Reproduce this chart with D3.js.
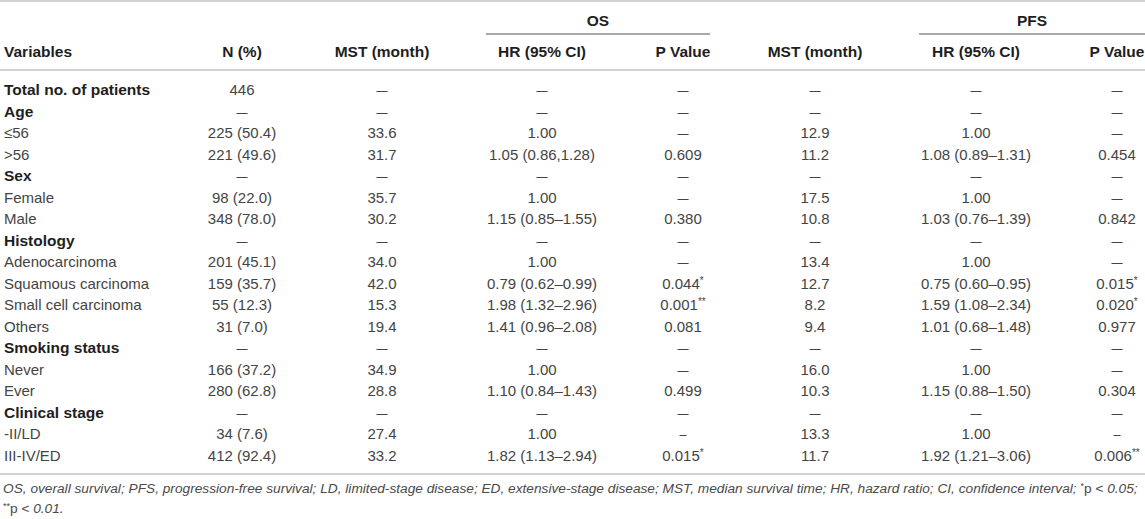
<!DOCTYPE html>
<html><head><meta charset="utf-8">
<script src="https://cdn.jsdelivr.net/npm/d3@7"></script>
<style>
html,body{margin:0;padding:0;background:#fff;}
svg{display:block;font-family:"Liberation Sans",Arial,Helvetica,sans-serif;}
</style></head>
<body><svg id="chart" width="1145" height="519"></svg>
<script>
const columns = ["Variables","N (%)","MST (month)","HR (95% CI)","P Value","MST (month)","HR (95% CI)","P Value"];
const groups = ["OS","PFS"];
const variables = ["Total no. of patients","Age","≤56",">56","Sex","Female","Male","Histology","Adenocarcinoma","Squamous carcinoma","Small cell carcinoma","Others","Smoking status","Never","Ever","Clinical stage","-II/LD","III-IV/ED"];
const boldRows = ["Total no. of patients","Age","Sex","Histology","Smoking status","Clinical stage"];
const nPct = ["446","—","225 (50.4)","221 (49.6)","—","98 (22.0)","348 (78.0)","—","201 (45.1)","159 (35.7)","55 (12.3)","31 (7.0)","—","166 (37.2)","280 (62.8)","—","34 (7.6)","412 (92.4)"];
const osMst = ["—","—","33.6","31.7","—","35.7","30.2","—","34.0","42.0","15.3","19.4","—","34.9","28.8","—","27.4","33.2"];
const osHr = ["—","—","1.00","1.05 (0.86,1.28)","—","1.00","1.15 (0.85–1.55)","—","1.00","0.79 (0.62–0.99)","1.98 (1.32–2.96)","1.41 (0.96–2.08)","—","1.00","1.10 (0.84–1.43)","—","1.00","1.82 (1.13–2.94)"];
const osP = ["—","—","—","0.609","—","—","0.380","—","—","0.044*","0.001**","0.081","—","—","0.499","—","–","0.015*"];
const pfsMst = ["—","—","12.9","11.2","—","17.5","10.8","—","13.4","12.7","8.2","9.4","—","16.0","10.3","—","13.3","11.7"];
const pfsHr = ["—","—","1.00","1.08 (0.89–1.31)","—","1.00","1.03 (0.76–1.39)","—","1.00","0.75 (0.60–0.95)","1.59 (1.08–2.34)","1.01 (0.68–1.48)","—","1.00","1.15 (0.88–1.50)","—","1.00","1.92 (1.21–3.06)"];
const pfsP = ["—","—","—","0.454","—","—","0.842","—","—","0.015*","0.020*","0.977","—","—","0.304","—","–","0.006**"];
const footnote1 = [["OS, overall survival; PFS, progression-free survival; LD, limited-stage disease; ED, extensive-stage disease; MST, median survival time; HR, hazard ratio; CI, confidence interval; ","i"],["*","sup"],["p","n"],[" < 0.05;","i"]];
const footnote2 = [["**","sup"],["p","n"],[" < 0.01.","i"]];

const svg = d3.select("#chart");
const W = 1145;
const dataCols = [nPct, osMst, osHr, osP, pfsMst, pfsHr, pfsP];
const colIdx = d3.range(1, 8);
const x = d3.scaleOrdinal().domain(colIdx).range([242, 382, 542, 683, 815, 976, 1117]);
const y = d3.scalePoint().domain(d3.range(variables.length)).range([89.5, 455.5]);
const body = "#444", head = "#1e1e1e", rule = "#d2d2d2";
const fs = 15;

// rules
svg.append("line").attr("x1",0).attr("x2",W).attr("y1",1).attr("y2",1).attr("stroke",rule).attr("stroke-width",2);
svg.append("line").attr("x1",0).attr("x2",W).attr("y1",70).attr("y2",70).attr("stroke",rule).attr("stroke-width",2);
svg.append("line").attr("x1",0).attr("x2",W).attr("y1",474).attr("y2",474).attr("stroke",rule).attr("stroke-width",2);

// group headers
const groupSpan = [[486, 710, 598], [919, 1145, 1032]];
groups.forEach((g,i)=>{
  svg.append("text").attr("x",groupSpan[i][2]).attr("y",25.6).attr("text-anchor","middle")
    .attr("font-weight","bold").attr("font-size",15.5).attr("fill",head).text(g);
  svg.append("line").attr("x1",groupSpan[i][0]).attr("x2",groupSpan[i][1]).attr("y1",34).attr("y2",34)
    .attr("stroke","#555").attr("stroke-width",1.2);
});

// column headers
svg.append("text").attr("x",4).attr("y",57).attr("font-weight","bold").attr("font-size",15.5).attr("fill",head).text(columns[0]);
colIdx.forEach(c=>{
  svg.append("text").attr("x",x(c)).attr("y",57).attr("text-anchor","middle")
    .attr("font-weight","bold").attr("font-size",15.5).attr("fill",head).text(columns[c]);
});

// variable labels
svg.selectAll("text.var").data(variables).join("text").attr("class","var")
  .attr("x",4).attr("y",(d,i)=>y(i)+5.5)
  .attr("font-size",d=>boldRows.includes(d)?15.5:fs)
  .attr("font-weight",d=>boldRows.includes(d)?"bold":"normal")
  .attr("fill",d=>boldRows.includes(d)?head:body).text(d=>d);

// values
dataCols.forEach((arr,ci)=>{
  const c = ci+1;
  arr.forEach((v,ri)=>{
    const m = v.match(/^(.*?)(\*+)$/);
    const t = svg.append("text").attr("x",x(c)).attr("y",y(ri)+5.5).attr("text-anchor","middle")
      .attr("font-size",fs).attr("fill",body);
    if(m){
      t.append("tspan").text(m[1]);
      t.append("tspan").attr("font-size",10).attr("dy",-5).text(m[2]);
    } else {
      t.text(v);
      if(v==="—") t.attr("textLength",11).attr("lengthAdjust","spacingAndGlyphs");
      if(v==="–") t.attr("textLength",7).attr("lengthAdjust","spacingAndGlyphs");
    }
  });
});

// footnotes
function foot(parts, yy, fsz){
  const t = svg.append("text").attr("x",3).attr("y",yy).attr("font-size",fsz).attr("fill","#4a4a4a");
  parts.forEach(([s,k])=>{
    const sp = t.append("tspan").text(s);
    if(k==="i") sp.attr("font-style","italic");
    if(k==="sup") sp.attr("font-size",fsz*0.65).attr("dy",-4);
    if(k==="n"){ sp.attr("dy",4); }
  });
  return t;
}
let f1 = foot(footnote1, 493, 14);
const len = f1.node().getComputedTextLength();
const fsz = 14*1135/len;
f1.remove();
foot(footnote1, 493, fsz);
foot(footnote2, 513, fsz);
</script></body></html>
